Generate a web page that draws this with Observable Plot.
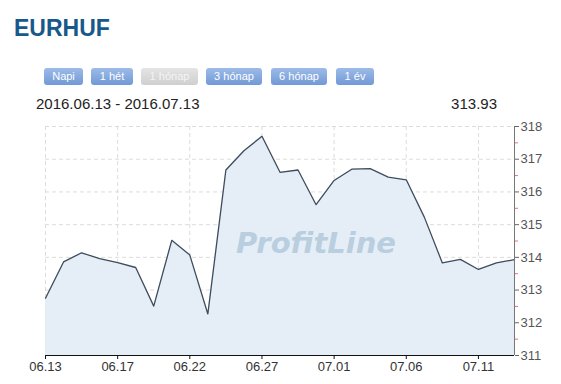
<!DOCTYPE html>
<html>
<head>
<meta charset="utf-8">
<script src="https://cdn.jsdelivr.net/npm/d3@7"></script>
<script src="https://cdn.jsdelivr.net/npm/@observablehq/plot@0.6"></script>
<style>
  html, body { margin: 0; padding: 0; background: #fff; width: 561px; height: 384px; overflow: hidden; font-family: "Liberation Sans", Arial, sans-serif; }
  #head { position: relative; height: 115px; }
  #title { position: absolute; left: 14px; top: 15px; font-size: 23px; font-weight: bold; color: #17598a; }
  .btn { position: absolute; top: 68px; height: 17px; line-height: 17px; font-size: 11px; color: #fff; text-align: center; border-radius: 3px;
         background: linear-gradient(#9dbbe8, #7199d6); }
  .btn.off { background: linear-gradient(#e4e4e4, #cfcfcf); color: #f4f4f4; }
  #range { position: absolute; left: 36px; top: 95px; font-size: 15px; color: #222; }
  #last { position: absolute; right: 64px; top: 95px; font-size: 15px; color: #222; }
  #chart svg { display: block; }
</style>
</head>
<body>
<div id="head">
  <div id="title">EURHUF</div>
  <div id="range"></div>
  <div id="last"></div>
</div>
<div id="chart"></div>
<script>
const title = "EURHUF";
const buttons = ["Napi", "1 hét", "1 hónap", "3 hónap", "6 hónap", "1 év"];
const activeButton = "1 hónap";
const dateRange = "2016.06.13 - 2016.07.13";
const values = [312.75, 313.86, 314.14, 313.96, 313.84, 313.69, 312.51, 314.52, 314.07, 312.27,
                316.67, 317.26, 317.70, 316.60, 316.67, 315.61, 316.35, 316.70, 316.71, 316.45,
                316.37, 315.23, 313.83, 313.94, 313.63, 313.83, 313.93];
const tickLabels = ["06.13", "06.17", "06.22", "06.27", "07.01", "07.06", "07.11"];
const tickEvery = 4;
const yTicks = [311, 312, 313, 314, 315, 316, 317, 318];
const watermark = "ProfitLine";

// header
const btnGeom = [[44, 39], [91, 42], [141, 57], [206, 56], [271, 56], [336, 38]];
const head = document.getElementById("head");
buttons.forEach((b, i) => {
  const el = document.createElement("div");
  el.className = "btn" + (b === activeButton ? " off" : "");
  el.style.left = btnGeom[i][0] + "px";
  el.style.width = btnGeom[i][1] + "px";
  el.textContent = b;
  head.appendChild(el);
});
document.getElementById("title").textContent = title;
document.getElementById("range").textContent = dateRange;
document.getElementById("last").textContent = values[values.length - 1].toFixed(2);

const data = values.map((v, i) => ({i, v}));
const xTicks = tickLabels.map((_, k) => k * tickEvery);
const halfTicks = yTicks.slice(0, -1).map(t => t + 0.5);

const chart = Plot.plot({
  width: 561,
  height: 269,
  marginTop: 11,
  marginBottom: 29,
  marginLeft: 45,
  marginRight: 47,
  style: {fontFamily: "Liberation Sans, Arial, sans-serif", fontSize: "13px", background: "#fff"},
  x: {domain: [0, values.length - 1]},
  y: {domain: [311, 318]},
  marks: [
    Plot.gridY(yTicks, {stroke: "#dcdcdc", strokeOpacity: 1, strokeDasharray: "4,3"}),
    Plot.gridX(xTicks, {stroke: "#dcdcdc", strokeOpacity: 1, strokeDasharray: "4,3"}),
    Plot.areaY(data, {x: "i", y1: 311, y2: "v", fill: "#e5eef7"}),
    Plot.text([watermark], {frameAnchor: "middle", dx: 36, dy: 3, text: d => d, fontSize: 29, fontWeight: "bold", fontStyle: "italic", fill: "#b9cfdf", fontFamily: "DejaVu Sans, Verdana, sans-serif"}),
    Plot.line(data, {x: "i", y: "v", stroke: "#3e4c5c", strokeWidth: 1.3}),
    Plot.ruleX([values.length - 1], {stroke: "#777"}),
    Plot.ruleY([311], {stroke: "#111"}),
    Plot.axisX({ticks: xTicks, tickFormat: (d) => tickLabels[d / tickEvery], tickSize: 4, tickPadding: 2, fill: "#333", stroke: "#111", label: null}),
    Plot.axisY({anchor: "right", ticks: yTicks, tickFormat: d => String(d), tickSize: 4, tickPadding: 2, fill: "#555", stroke: "#666", label: null}),
    Plot.axisY({anchor: "right", ticks: halfTicks, tickSize: 3, text: null, stroke: "#d77", label: null})
  ]
});
document.getElementById("chart").appendChild(chart);
</script>
</body>
</html>
